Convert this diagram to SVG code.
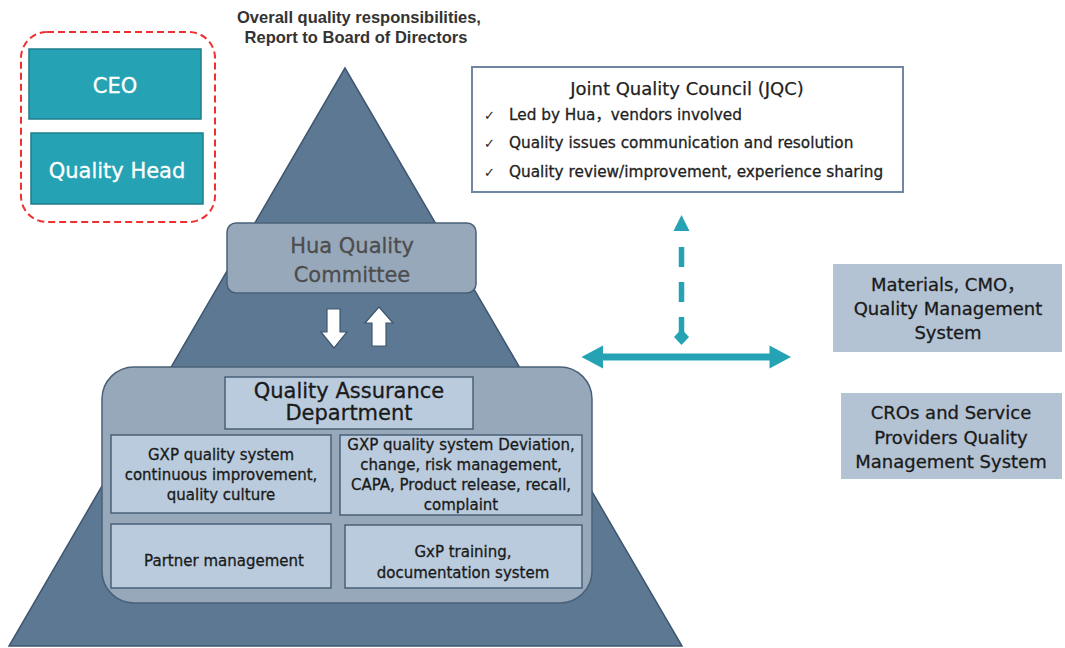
<svg xmlns="http://www.w3.org/2000/svg" width="1065" height="648" viewBox="0 0 1065 648">
<style>
.t{font-family:"DejaVu Sans","Noto Sans CJK SC",sans-serif;text-anchor:middle}
.teal{fill:#25a3b4;stroke:#1f7d8c;stroke-width:1.5}
.wt{fill:#ffffff;font-size:21px;stroke:#ffffff;stroke-width:0.3}
.gray{fill:#97a8bb;stroke:#4a6078;stroke-width:1.5}
.light{fill:#b9cbdc;stroke:#4a6078;stroke-width:1.5}
.side{fill:#b3c3d3}
.dk{fill:#1a1a1a;stroke:#1a1a1a;stroke-width:0.3}
.s15{font-size:15px}
.s18{font-size:18px}
</style>
<rect width="1065" height="648" fill="#ffffff"/>

<g id="title">
<text x="359" y="23" text-anchor="middle" style="font-family:'Liberation Sans',Arial,sans-serif;font-weight:bold;font-size:16.5px" fill="#333">Overall quality responsibilities,</text>
<text x="356" y="43" text-anchor="middle" style="font-family:'Liberation Sans',Arial,sans-serif;font-weight:bold;font-size:16.5px" fill="#333">Report to Board of Directors</text>
</g>

<g id="leadership">
<rect x="21" y="32" width="194" height="190" rx="26" fill="none" stroke="#f03030" stroke-width="2" stroke-dasharray="7 4"/>
<g id="ceo">
<rect class="teal" x="29" y="49" width="172" height="70"/>
<text class="t wt" x="115" y="93">CEO</text>
</g>
<g id="quality-head">
<rect class="teal" x="31" y="133" width="172" height="71"/>
<text class="t wt" x="117" y="178">Quality Head</text>
</g>
</g>

<g id="pyramid">
<polygon points="345,68 9,646 682,646" fill="#5d7893" stroke="#3f566f" stroke-width="1.5"/>
</g>

<g id="hua-committee">
<rect class="gray" x="227" y="223" width="249" height="70" rx="9"/>
<text class="t" x="352" y="253" font-size="21" fill="#4d4d4d" stroke="#4d4d4d" stroke-width="0.3">Hua Quality</text>
<text class="t" x="352" y="282" font-size="21" fill="#4d4d4d" stroke="#4d4d4d" stroke-width="0.3">Committee</text>
</g>

<g id="updown-arrows" fill="#ffffff" stroke="#3f566f" stroke-width="1.2">
<polygon points="327,309 340,309 340,332 347,332 334,348 321,332 327,332"/>
<polygon points="379,307 393,323 386,323 386,346 372,346 372,323 365,323"/>
</g>

<g id="qa-department">
<rect class="gray" x="102" y="367" width="490" height="236" rx="32"/>
<rect class="light" x="225" y="377" width="248" height="52"/>
<text class="t dk" x="349" y="398" font-size="21">Quality Assurance</text>
<text class="t dk" x="349" y="420" font-size="21">Department</text>
</g>

<g id="qa-continuous">
<rect class="light" x="111" y="435" width="220" height="78"/>
<text class="t dk s15" x="221" y="460">GXP quality system</text>
<text class="t dk s15" x="221" y="480">continuous improvement,</text>
<text class="t dk s15" x="221" y="500">quality culture</text>
</g>
<g id="qa-deviation">
<rect class="light" x="340" y="435" width="242" height="80"/>
<text class="t dk s15" x="461" y="450">GXP quality system Deviation,</text>
<text class="t dk s15" x="461" y="470">change, risk management,</text>
<text class="t dk s15" x="461" y="490">CAPA, Product release, recall,</text>
<text class="t dk s15" x="461" y="510">complaint</text>
</g>
<g id="qa-partner">
<rect class="light" x="111" y="524" width="220" height="64"/>
<text class="t dk s15" x="224" y="566">Partner management</text>
</g>
<g id="qa-training">
<rect class="light" x="345" y="525" width="237" height="63"/>
<text class="t dk s15" x="463" y="557">GxP training,</text>
<text class="t dk s15" x="463" y="578">documentation system</text>
</g>

<g id="jqc">
<rect x="472" y="67" width="431" height="125" fill="#ffffff" stroke="#6f87a3" stroke-width="2"/>
<text class="t" x="687" y="95" font-size="18" fill="#222" stroke="#222" stroke-width="0.25">Joint Quality Council (JQC)</text>
<g class="t" fill="#222" style="text-anchor:start;font-size:15.3px">
<text x="484" y="120" font-size="13">✓</text>
<text x="509" y="120" stroke="#222" stroke-width="0.3">Led by Hua，vendors involved</text>
<text x="484" y="148" font-size="13">✓</text>
<text x="509" y="148" stroke="#222" stroke-width="0.3">Quality issues communication and resolution</text>
<text x="484" y="177" font-size="13">✓</text>
<text x="509" y="177" stroke="#222" stroke-width="0.3">Quality review/improvement, experience sharing</text>
</g>
</g>

<g id="materials">
<rect class="side" x="833" y="264" width="229" height="88"/>
<text class="t dk s18" x="948" y="291">Materials, CMO，</text>
<text class="t dk s18" x="948" y="315">Quality Management</text>
<text class="t dk s18" x="948" y="339">System</text>
</g>
<g id="cros">
<rect class="side" x="841" y="393" width="221" height="86"/>
<text class="t dk s18" x="951" y="419">CROs and Service</text>
<text class="t dk s18" x="951" y="444">Providers Quality</text>
<text class="t dk s18" x="951" y="468">Management System</text>
</g>

<g id="connectors">
<line x1="681.5" y1="247" x2="681.5" y2="333" stroke="#25a3b4" stroke-width="5.5" stroke-dasharray="20 15"/>
<polygon points="681.5,215 689.5,231 673.5,231" fill="#25a3b4"/>
<polygon points="681.5,329 689,337 681.5,345 674,337" fill="#25a3b4"/>
<line x1="602" y1="357" x2="770" y2="357" stroke="#25a3b4" stroke-width="7"/>
<polygon points="581.5,357 603,345.5 603,368.5" fill="#25a3b4"/>
<polygon points="791,357 769.5,345.5 769.5,368.5" fill="#25a3b4"/>
</g>
</svg>
